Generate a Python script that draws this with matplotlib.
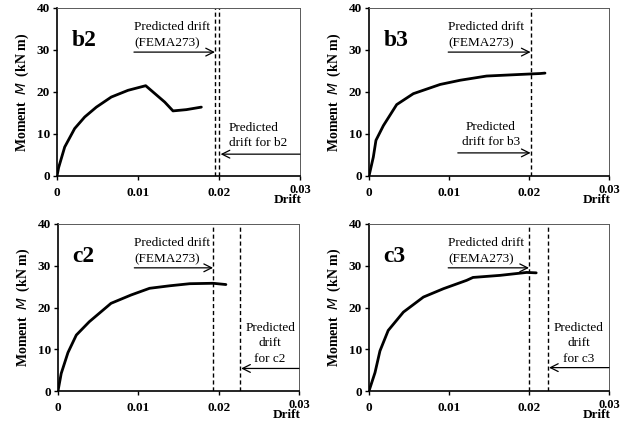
import matplotlib
matplotlib.use('Agg')
import matplotlib.pyplot as plt

plt.rcParams['font.family'] = ['Liberation Serif', 'DejaVu Serif']

# drift / moment
b2_drift  = [0, 0.0002, 0.00095, 0.00218, 0.00342, 0.00486, 0.0067, 0.00877, 0.01095, 0.0133, 0.01432, 0.01597, 0.01782]
b2_moment = [0, 2.0, 6.9, 11.3, 14.05, 16.4, 18.8, 20.4, 21.5, 17.6, 15.5, 15.8, 16.4]

b3_drift  = [0, 0.00054, 0.00087, 0.0018, 0.00346, 0.00554, 0.0089, 0.0114, 0.0147, 0.018, 0.0214, 0.022]
b3_moment = [0, 4.5, 8.5, 12.0, 17.0, 19.6, 21.8, 22.8, 23.8, 24.1, 24.4, 24.5]

c2_drift  = [0, 0.0004, 0.00124, 0.00228, 0.0039, 0.0066, 0.0091, 0.0114, 0.0139, 0.0164, 0.0193, 0.0209]
c2_moment = [0, 4.2, 9.2, 13.4, 16.6, 21.0, 23.0, 24.6, 25.2, 25.7, 25.8, 25.5]

c3_drift  = [0, 0.00075, 0.00137, 0.0024, 0.0043, 0.0068, 0.0093, 0.0122, 0.013, 0.0164, 0.0197, 0.0209]
c3_moment = [0, 4.4, 9.6, 14.5, 18.9, 22.5, 24.5, 26.5, 27.2, 27.7, 28.4, 28.3]

# predicted drifts: FEMA273 and specimen prediction
fema_drift = {'b2': 0.0195, 'b3': 0.0202, 'c2': 0.0193, 'c3': 0.0200}
pred_drift = {'b2': 0.0200, 'b3': 0.0202, 'c2': 0.0227, 'c3': 0.0224}

panels = {
    'b2': (b2_drift, b2_moment),
    'b3': (b3_drift, b3_moment),
    'c2': (c2_drift, c2_moment),
    'c3': (c3_drift, c3_moment),
}

W, H = 629, 430
fig = plt.figure(figsize=(W/100, H/100), dpi=100)
rects = {
    'b2': [57/W, 1-176/H, 243/W, 168/H],
    'b3': [369/W, 1-176/H, 240/W, 168/H],
    'c2': [58/W, 1-391/H, 241/W, 167/H],
    'c3': [369/W, 1-391/H, 240/W, 167/H],
}

fs_txt = 9.5
lsp = 1.4
arrow = dict(arrowstyle='->', lw=0.9, color='black', mutation_scale=14, shrinkA=0, shrinkB=0)

for name, (x, y) in panels.items():
    ax = fig.add_axes(rects[name])
    ax.plot(x, y, color='black', lw=2.0, solid_capstyle='round')
    ax.set_xlim(0, 0.03)
    ax.set_ylim(0, 40)
    ax.set_xticks([0, 0.01, 0.02, 0.03])
    ax.set_xticklabels(['0', '0.01', '0.02', ''])
    ax.set_yticks([0, 10, 20, 30, 40])
    ax.tick_params(direction='out', length=3, width=1, labelsize=9.5, pad=2)
    for lab in ax.get_xticklabels() + ax.get_yticklabels():
        lab.set_fontweight('bold')
    ax.tick_params(axis='x', pad=5)
    for s in ['left', 'bottom']:
        ax.spines[s].set_linewidth(1.2)
    for s in ['top', 'right']:
        ax.spines[s].set_linewidth(0.7)
        ax.spines[s].set_color('0.35')

    ax.text(0.0300, -3.4, '0.03', fontsize=9, fontweight='bold', ha='center', va='center')
    ax.text(0.0285, -5.8, 'Drift', fontsize=9.5, fontweight='bold', ha='center', va='center')
    ax.set_ylabel(r'Moment  $\mathit{M}$  (kN m)', fontsize=10, fontweight='bold', labelpad=4)

    ax.text(x[0] + 0.0018, 31, name, fontsize=17, fontweight='bold', va='baseline')

    # dashed prediction lines
    ax.axvline(fema_drift[name], color='black', lw=1.0, ls=(0, (3, 2)))
    if pred_drift[name] != fema_drift[name]:
        ax.axvline(pred_drift[name], color='black', lw=1.0, ls=(0, (3, 2)))

    # FEMA273 annotation
    x0 = 0.0095 if name in ('b2', 'c2') else 0.0099
    ax.text(x0, 36.8, 'Predicted drift\n(FEMA273)', fontsize=fs_txt, va='top', ha='left',
            linespacing=lsp)
    ax.annotate('', xy=(fema_drift[name], 29.5), xytext=(x0, 29.5), arrowprops=arrow)

# specimen-specific annotations
ax_b2, ax_b3, ax_c2, ax_c3 = fig.axes
ax_b2.text(0.0212, 12.9, 'Predicted\ndrift for b2', fontsize=fs_txt, va='top', ha='left', linespacing=lsp)
ax_b2.annotate('', xy=(0.0202, 5.2), xytext=(0.0300, 5.2), arrowprops=arrow)

ax_b3.text(0.0152, 13.2, 'Predicted\ndrift for b3', fontsize=fs_txt, va='top', ha='center', linespacing=lsp)
ax_b3.annotate('', xy=(0.0202, 5.5), xytext=(0.0111, 5.5), arrowprops=arrow)

ax_c2.text(0.0264, 16.6, 'Predicted\ndrift\nfor c2', fontsize=fs_txt, va='top', ha='center', linespacing=lsp)
ax_c2.annotate('', xy=(0.0228, 5.4), xytext=(0.0300, 5.4), arrowprops=arrow)

ax_c3.text(0.0262, 16.6, 'Predicted\ndrift\nfor c3', fontsize=fs_txt, va='top', ha='center', linespacing=lsp)
ax_c3.annotate('', xy=(0.0225, 5.6), xytext=(0.0300, 5.6), arrowprops=arrow)

fig.savefig('out.png', dpi=100)
